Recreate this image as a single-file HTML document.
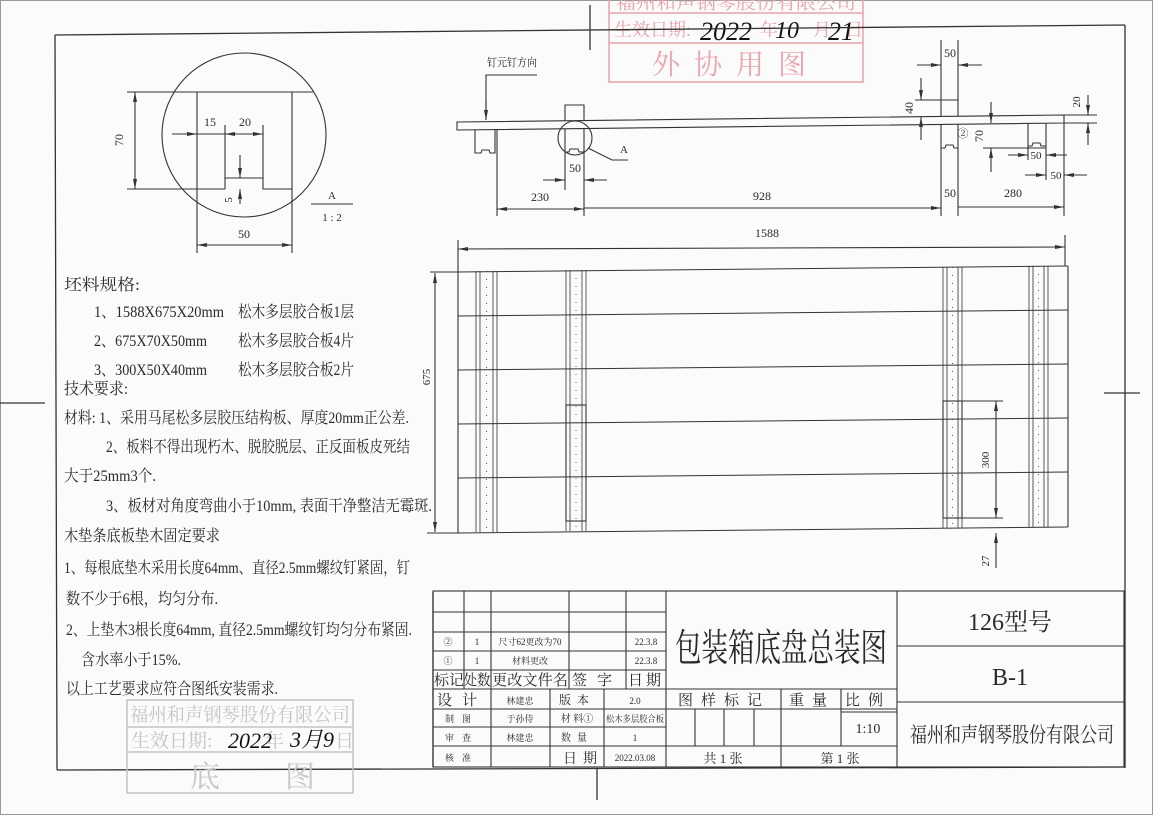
<!DOCTYPE html>
<html><head><meta charset="utf-8"><style>
html,body{margin:0;padding:0;background:#fff;}
svg{display:block;}
text{font-family:"Liberation Serif","Noto Serif CJK SC",serif;fill:#2a2a2a;}
.c{font-family:"Liberation Serif","Noto Serif CJK SC",serif;}
</style></head><body>
<svg width="1153" height="815" viewBox="0 0 1153 815" xmlns="http://www.w3.org/2000/svg">
<defs>
<marker id="a" viewBox="0 0 10 4" refX="10" refY="2" markerWidth="10" markerHeight="4" markerUnits="userSpaceOnUse" orient="auto-start-reverse"><path d="M0,0 L10,2 L0,4z" fill="#333"/></marker>
</defs>
<rect x="0" y="0" width="1153" height="815" fill="#fbfbfb"/>
<rect x="0.5" y="0.5" width="1152" height="814" fill="none" stroke="#999"/>

<!-- red stamp top -->
<g stroke="#e8a3ab" fill="none" stroke-width="1.5">
<rect x="609" y="-2" width="254" height="84"/>
<line x1="609" y1="13" x2="863" y2="13"/>
<line x1="609" y1="43" x2="863" y2="43"/>
</g>
<text x="736" y="9" font-size="17" text-anchor="middle" style="fill:#e8a3ab" textLength="240" lengthAdjust="spacingAndGlyphs">福州和声钢琴股份有限公司</text>
<text x="614" y="36" font-size="18" style="fill:#e8a3ab">生效日期:</text>
<text x="760" y="36" font-size="18" style="fill:#e8a3ab">年</text>
<text x="813" y="36" font-size="18" style="fill:#e8a3ab">月</text>
<text x="845" y="36" font-size="18" style="fill:#e8a3ab">日</text>
<text x="736" y="74" font-size="28" text-anchor="middle" style="fill:#eaa6ae" letter-spacing="14">外协用图</text>
<text x="700" y="40" font-size="26" font-style="italic" style="fill:#111">2022</text>
<text x="775" y="38" font-size="24" font-style="italic" style="fill:#111">10</text>
<text x="828" y="40" font-size="26" font-style="italic" style="fill:#111">21</text>

<!-- frame -->
<g stroke="#333" stroke-width="1.3" fill="none">
<line x1="55" y1="35" x2="1125" y2="25"/>
<line x1="55" y1="35" x2="57" y2="770"/>
<line x1="1125" y1="25" x2="1125" y2="768"/>
<line x1="57" y1="770" x2="1125" y2="767"/>
<line x1="590" y1="5" x2="590" y2="50"/>
<line x1="0" y1="403" x2="45" y2="403"/>
<line x1="1104" y1="393" x2="1140" y2="393"/>
<line x1="597" y1="768" x2="597" y2="800"/>
<line x1="433" y1="592" x2="433" y2="767"/>
</g>

<!-- Detail A -->
<g stroke="#333" stroke-width="1.1" fill="none">
<circle cx="244" cy="135" r="82"/>
<line x1="127" y1="92" x2="313" y2="92"/>
<line x1="127" y1="189" x2="225" y2="189"/>
<polyline points="225,189 225,178 263,178 263,189 292,189"/>
<line x1="197" y1="92" x2="197" y2="253"/>
<line x1="292" y1="92" x2="292" y2="253"/>
<line x1="135" y1="92" x2="135" y2="189" marker-start="url(#a)" marker-end="url(#a)"/>
<line x1="197" y1="245" x2="292" y2="245" marker-start="url(#a)" marker-end="url(#a)"/>
<line x1="172" y1="134" x2="197" y2="134" marker-end="url(#a)"/>
<line x1="197" y1="134" x2="225" y2="134"/>
<line x1="225" y1="134" x2="263" y2="134" marker-start="url(#a)" marker-end="url(#a)"/>
<line x1="225" y1="125" x2="225" y2="178"/>
<line x1="263" y1="125" x2="263" y2="178"/>
<line x1="240" y1="155" x2="240" y2="178" marker-end="url(#a)"/>
<line x1="240" y1="204" x2="240" y2="189" marker-end="url(#a)"/>
<line x1="311" y1="204" x2="353" y2="204"/>
</g>
<text x="123" y="140" font-size="12" transform="rotate(-90 123 140)" text-anchor="middle">70</text>
<text x="210" y="126" font-size="12" text-anchor="middle">15</text>
<text x="245" y="126" font-size="12" text-anchor="middle">20</text>
<text x="244" y="238" font-size="12" text-anchor="middle">50</text>
<text x="232" y="200" font-size="11" transform="rotate(-90 232 200)" text-anchor="middle">5</text>
<text x="332" y="199" font-size="11" text-anchor="middle">A</text>
<text x="332" y="221" font-size="11" text-anchor="middle">1 : 2</text>

<!-- Side view -->
<g stroke="#333" stroke-width="1.1" fill="none">
<polygon points="457,122 1064,115 1064,123 457,130"/>
<line x1="1064" y1="115" x2="1097" y2="115"/>
<line x1="1064" y1="123" x2="1097" y2="123"/>
<!-- blocks -->
<polyline points="475,130 475,153 481,153 482,150 489,150 490,153 495,153 495,129"/>
<polyline points="565,121 565,105 584,105 584,121"/>
<polyline points="565,129 565,152 569,152 570,149 578,149 579,152 584,152 584,129"/>
<circle cx="575" cy="138" r="17"/>
<polyline points="588,148 612,160 628,160"/>
<polyline points="941,116 941,100 958,100 958,116"/>
<polyline points="941,124 941,148 945,148 946,145 953,145 954,148 958,148 958,124"/>
<polyline points="1028,123 1028,146 1032,146 1033,143 1040,143 1041,146 1046,146 1046,123"/>
<!-- nail direction -->
<polyline points="537,75 486,75 486,120" />
<line x1="486" y1="100" x2="486" y2="120" marker-end="url(#a)"/>
<!-- top 50 -->
<line x1="941" y1="40" x2="941" y2="100"/>
<line x1="958" y1="40" x2="958" y2="100"/>
<line x1="917" y1="65" x2="941" y2="65" marker-end="url(#a)"/>
<line x1="982" y1="65" x2="958" y2="65" marker-end="url(#a)"/>
<!-- 40 -->
<line x1="915" y1="100" x2="958" y2="100"/>
<line x1="921" y1="78" x2="921" y2="100" marker-end="url(#a)"/>
<line x1="921" y1="140" x2="921" y2="117" marker-end="url(#a)"/>
<!-- 20 -->
<line x1="1088" y1="95" x2="1088" y2="115" marker-end="url(#a)"/>
<line x1="1088" y1="145" x2="1088" y2="123" marker-end="url(#a)"/>
<!-- 70 -->
<line x1="991" y1="102" x2="991" y2="123" marker-end="url(#a)"/>
<line x1="991" y1="172" x2="991" y2="148" marker-end="url(#a)"/>
<line x1="983" y1="148" x2="1046" y2="148"/>
<!-- small 50s -->
<line x1="1028" y1="146" x2="1028" y2="160"/>
<line x1="1046" y1="146" x2="1046" y2="180"/>
<line x1="1008" y1="155" x2="1028" y2="155" marker-end="url(#a)"/>
<line x1="1067" y1="155" x2="1046" y2="155" marker-end="url(#a)"/>
<line x1="1025" y1="175" x2="1046" y2="175" marker-end="url(#a)"/>
<line x1="1087" y1="175" x2="1064" y2="175" marker-end="url(#a)"/>
<!-- extension lines -->
<line x1="497" y1="130" x2="497" y2="216"/>
<line x1="565" y1="152" x2="565" y2="190"/>
<line x1="584" y1="152" x2="584" y2="216"/>
<line x1="941" y1="148" x2="941" y2="216"/>
<line x1="958" y1="148" x2="958" y2="216"/>
<line x1="1064" y1="123" x2="1064" y2="216"/>
<line x1="543" y1="180" x2="565" y2="180" marker-end="url(#a)"/>
<line x1="607" y1="180" x2="584" y2="180" marker-end="url(#a)"/>
<line x1="497" y1="209" x2="584" y2="209" marker-start="url(#a)" marker-end="url(#a)"/>
<line x1="584" y1="208" x2="941" y2="208" marker-end="url(#a)"/>
<line x1="958" y1="207" x2="1064" y2="207" marker-end="url(#a)"/>
</g>
<text x="487" y="66" font-size="11" textLength="50" lengthAdjust="spacingAndGlyphs">钉元钉方向</text>
<text x="624" y="153" font-size="11" text-anchor="middle">A</text>
<text x="950" y="57" font-size="12" text-anchor="middle">50</text>
<text x="913" y="108" font-size="12" transform="rotate(-90 913 108)" text-anchor="middle">40</text>
<text x="1080" y="102" font-size="11" transform="rotate(-90 1080 102)" text-anchor="middle">20</text>
<text x="983" y="136" font-size="12" transform="rotate(-90 983 136)" text-anchor="middle">70</text>
<text x="963" y="137" font-size="11" text-anchor="middle">②</text>
<text x="1036" y="159" font-size="11" text-anchor="middle">50</text>
<text x="1056" y="179" font-size="11" text-anchor="middle">50</text>
<text x="575" y="172" font-size="12" text-anchor="middle">50</text>
<text x="540" y="201" font-size="12" text-anchor="middle">230</text>
<text x="762" y="200" font-size="12" text-anchor="middle">928</text>
<text x="950" y="197" font-size="12" text-anchor="middle">50</text>
<text x="1013" y="197" font-size="12" text-anchor="middle">280</text>

<!-- Plan view -->
<g stroke="#333" stroke-width="1.1" fill="none">
<line x1="458" y1="240" x2="458" y2="272"/>
<line x1="1065" y1="235" x2="1065" y2="266"/>
<line x1="458" y1="249" x2="1065" y2="247" marker-start="url(#a)" marker-end="url(#a)"/>
<line x1="458" y1="272" x2="1068" y2="266"/>
<line x1="458" y1="316" x2="1068" y2="310"/>
<line x1="458" y1="370" x2="1068" y2="364"/>
<line x1="458" y1="424" x2="1068" y2="418"/>
<line x1="458" y1="478" x2="1068" y2="472"/>
<line x1="458" y1="533" x2="1068" y2="527"/>
<line x1="458" y1="272" x2="458" y2="533"/>
<line x1="1068" y1="266" x2="1068" y2="527"/>
<line x1="430" y1="272" x2="458" y2="272"/>
<line x1="427" y1="533" x2="458" y2="533"/>
<line x1="435" y1="273" x2="435" y2="532" marker-start="url(#a)" marker-end="url(#a)"/>
<g stroke-width="0.8">
<line x1="476" y1="271" x2="476" y2="532"/><line x1="480" y1="271" x2="480" y2="532"/>
<line x1="493" y1="271" x2="493" y2="532"/><line x1="497" y1="271" x2="497" y2="532"/>
<line x1="566" y1="270" x2="566" y2="531"/><line x1="570" y1="270" x2="570" y2="531"/>
<line x1="582" y1="270" x2="582" y2="531"/><line x1="586" y1="270" x2="586" y2="531"/>
<line x1="943" y1="267" x2="943" y2="528"/><line x1="947" y1="267" x2="947" y2="528"/>
<line x1="958" y1="267" x2="958" y2="528"/><line x1="962" y1="267" x2="962" y2="528"/>
<line x1="1029" y1="266" x2="1029" y2="527"/><line x1="1033" y1="266" x2="1033" y2="527"/>
<line x1="1044" y1="266" x2="1044" y2="527"/><line x1="1048" y1="266" x2="1048" y2="527"/>
<line x1="486.5" y1="271" x2="486.5" y2="532" stroke-dasharray="1 7"/>
<line x1="576" y1="270" x2="576" y2="531" stroke-dasharray="1 7"/>
<line x1="952.5" y1="267" x2="952.5" y2="528" stroke-dasharray="1 7"/>
<line x1="1038.5" y1="266" x2="1038.5" y2="527" stroke-dasharray="1 7"/>
</g>
<rect x="566" y="405" width="20" height="116"/>
<rect x="943" y="401" width="19" height="117"/>
<line x1="962" y1="401" x2="1003" y2="401"/>
<line x1="962" y1="518" x2="1003" y2="518"/>
<line x1="996" y1="401" x2="996" y2="518" marker-start="url(#a)" marker-end="url(#a)"/>
<line x1="996" y1="568" x2="996" y2="533" marker-end="url(#a)"/>
</g>
<text x="767" y="237" font-size="12" text-anchor="middle">1588</text>
<text x="430" y="377" font-size="11" transform="rotate(-90 430 377)" text-anchor="middle">675</text>
<text x="989" y="460" font-size="11" transform="rotate(-90 989 460)" text-anchor="middle">300</text>
<text x="989" y="561" font-size="11" transform="rotate(-90 989 561)" text-anchor="middle">27</text>

<!-- left text -->
<g font-size="16">
<text x="64" y="290" textLength="76" lengthAdjust="spacingAndGlyphs">坯料规格:</text>
<text x="94" y="317" textLength="130" lengthAdjust="spacingAndGlyphs">1、1588X675X20mm</text>
<text x="238" y="317" textLength="116" lengthAdjust="spacingAndGlyphs">松木多层胶合板1层</text>
<text x="94" y="346" textLength="113" lengthAdjust="spacingAndGlyphs">2、675X70X50mm</text>
<text x="238" y="346" textLength="116" lengthAdjust="spacingAndGlyphs">松木多层胶合板4片</text>
<text x="94" y="375" textLength="113" lengthAdjust="spacingAndGlyphs">3、300X50X40mm</text>
<text x="238" y="375" textLength="116" lengthAdjust="spacingAndGlyphs">松木多层胶合板2片</text>
<text x="64" y="394" textLength="64" lengthAdjust="spacingAndGlyphs">技术要求:</text>
<text x="64" y="423" textLength="345" lengthAdjust="spacingAndGlyphs">材料: 1、采用马尾松多层胶压结构板、厚度20mm正公差.</text>
<text x="106" y="452" textLength="304" lengthAdjust="spacingAndGlyphs">2、板料不得出现朽木、脱胶脱层、正反面板皮死结</text>
<text x="64" y="481" textLength="92" lengthAdjust="spacingAndGlyphs">大于25mm3个.</text>
<text x="106" y="511" textLength="326" lengthAdjust="spacingAndGlyphs">3、板材对角度弯曲小于10mm, 表面干净整洁无霉斑.</text>
<text x="64" y="541" textLength="156" lengthAdjust="spacingAndGlyphs">木垫条底板垫木固定要求</text>
<text x="64" y="573" textLength="346" lengthAdjust="spacingAndGlyphs">1、每根底垫木采用长度64mm、直径2.5mm螺纹钉紧固，钉</text>
<text x="66" y="604" textLength="152" lengthAdjust="spacingAndGlyphs">数不少于6根，均匀分布.</text>
<text x="66" y="635" textLength="346" lengthAdjust="spacingAndGlyphs">2、上垫木3根长度64mm, 直径2.5mm螺纹钉均匀分布紧固.</text>
<text x="81" y="665" textLength="100" lengthAdjust="spacingAndGlyphs">含水率小于15%.</text>
<text x="66" y="694" textLength="212" lengthAdjust="spacingAndGlyphs">以上工艺要求应符合图纸安装需求.</text>
</g>

<!-- gray stamp -->
<g stroke="#c4c4c4" stroke-width="1.5" fill="none">
<rect x="127" y="700" width="226" height="93"/>
<line x1="127" y1="727" x2="353" y2="727"/>
<line x1="127" y1="752" x2="353" y2="752"/>
</g>
<text x="240" y="721" font-size="19" text-anchor="middle" style="fill:#c4c4c4" textLength="220" lengthAdjust="spacingAndGlyphs">福州和声钢琴股份有限公司</text>
<text x="131" y="747" font-size="19" style="fill:#c4c4c4">生效日期:</text>
<text x="265" y="747" font-size="19" style="fill:#c4c4c4">年</text>
<text x="335" y="747" font-size="19" style="fill:#c4c4c4">日</text>
<text x="190" y="787" font-size="30" style="fill:#c8c8c8">底</text>
<text x="285" y="787" font-size="30" style="fill:#c8c8c8">图</text>
<text x="228" y="748" font-size="22" font-style="italic" style="fill:#111">2022</text>
<text x="290" y="747" font-size="22" font-style="italic" style="fill:#111">3月9</text>

<!-- title block -->
<g stroke="#333" stroke-width="1.1" fill="none">
<rect x="433" y="591" width="691" height="176"/>
<line x1="433" y1="612" x2="666" y2="612"/>
<line x1="433" y1="632" x2="666" y2="632"/>
<line x1="433" y1="651" x2="666" y2="651"/>
<line x1="433" y1="670" x2="666" y2="670"/>
<line x1="433" y1="689" x2="897" y2="689"/>
<line x1="433" y1="709" x2="897" y2="709"/>
<line x1="433" y1="727" x2="666" y2="727"/>
<line x1="433" y1="746" x2="897" y2="746"/>
<line x1="464" y1="591" x2="464" y2="689"/>
<line x1="491" y1="591" x2="491" y2="767"/>
<line x1="569" y1="591" x2="569" y2="689"/>
<line x1="626" y1="591" x2="626" y2="689"/>
<line x1="550" y1="689" x2="550" y2="767"/>
<line x1="604" y1="689" x2="604" y2="767"/>
<line x1="666" y1="591" x2="666" y2="767"/>
<line x1="897" y1="591" x2="897" y2="767"/>
<line x1="781" y1="689" x2="781" y2="767"/>
<line x1="841" y1="689" x2="841" y2="746"/>
<line x1="695" y1="709" x2="695" y2="746"/>
<line x1="724" y1="709" x2="724" y2="746"/>
<line x1="754" y1="709" x2="754" y2="746"/>
<line x1="841" y1="712" x2="897" y2="712"/>
<line x1="897" y1="646" x2="1124" y2="646"/>
<line x1="897" y1="702" x2="1124" y2="702"/>
</g>
<g font-size="9" text-anchor="middle">
<text x="448" y="645">②</text><text x="477" y="645">1</text><text x="530" y="645">尺寸62更改为70</text><text x="646" y="645">22.3.8</text>
<text x="448" y="664">①</text><text x="477" y="664">1</text><text x="530" y="664">材料更改</text><text x="646" y="664">22.3.8</text>
</g>
<g font-size="15" text-anchor="middle">
<text x="449" y="685">标记</text><text x="477" y="685" textLength="27" lengthAdjust="spacingAndGlyphs">处数</text>
<text x="530" y="685" textLength="76" lengthAdjust="spacingAndGlyphs">更改文件名</text>
<text x="597" y="685" letter-spacing="10">签字</text><text x="646" y="685" letter-spacing="3">日期</text>
<text x="462" y="705" letter-spacing="10">设计</text>
<text x="577" y="704" font-size="12" letter-spacing="6">版本</text>
<text x="583" y="763" font-size="14" letter-spacing="6">日期</text>
</g>
<g font-size="9" text-anchor="middle">
<text x="520" y="704">林建忠</text><text x="635" y="704">2.0</text>
<text x="462" y="722" letter-spacing="8">制图</text><text x="520" y="722">于孙侍</text><text x="577" y="722" font-size="10">材 料①</text><text x="635" y="722" textLength="58" lengthAdjust="spacingAndGlyphs">松木多层胶合板</text>
<text x="462" y="741" letter-spacing="8">审查</text><text x="520" y="741">林建忠</text><text x="577" y="741" font-size="10" letter-spacing="6">数量</text><text x="635" y="741">1</text>
<text x="462" y="761" letter-spacing="8">核准</text><text x="635" y="761">2022.03.08</text>
</g>
<text x="781" y="661" font-size="38" text-anchor="middle" textLength="212" lengthAdjust="spacingAndGlyphs">包装箱底盘总装图</text>
<g font-size="15" text-anchor="middle">
<text x="724" y="705" letter-spacing="8">图样标记</text>
<text x="812" y="705" letter-spacing="8">重量</text>
<text x="868" y="705" letter-spacing="8">比例</text>
<text x="868" y="733" font-size="14">1:10</text>
<text x="723" y="763" font-size="13">共 1  张</text>
<text x="840" y="763" font-size="13">第 1  张</text>
</g>
<text x="1010" y="630" font-size="24" text-anchor="middle">126型号</text>
<text x="1010" y="685" font-size="24" text-anchor="middle">B-1</text>
<text x="1012" y="742" font-size="21" text-anchor="middle" textLength="204" lengthAdjust="spacingAndGlyphs">福州和声钢琴股份有限公司</text>
</svg>
</body></html>
